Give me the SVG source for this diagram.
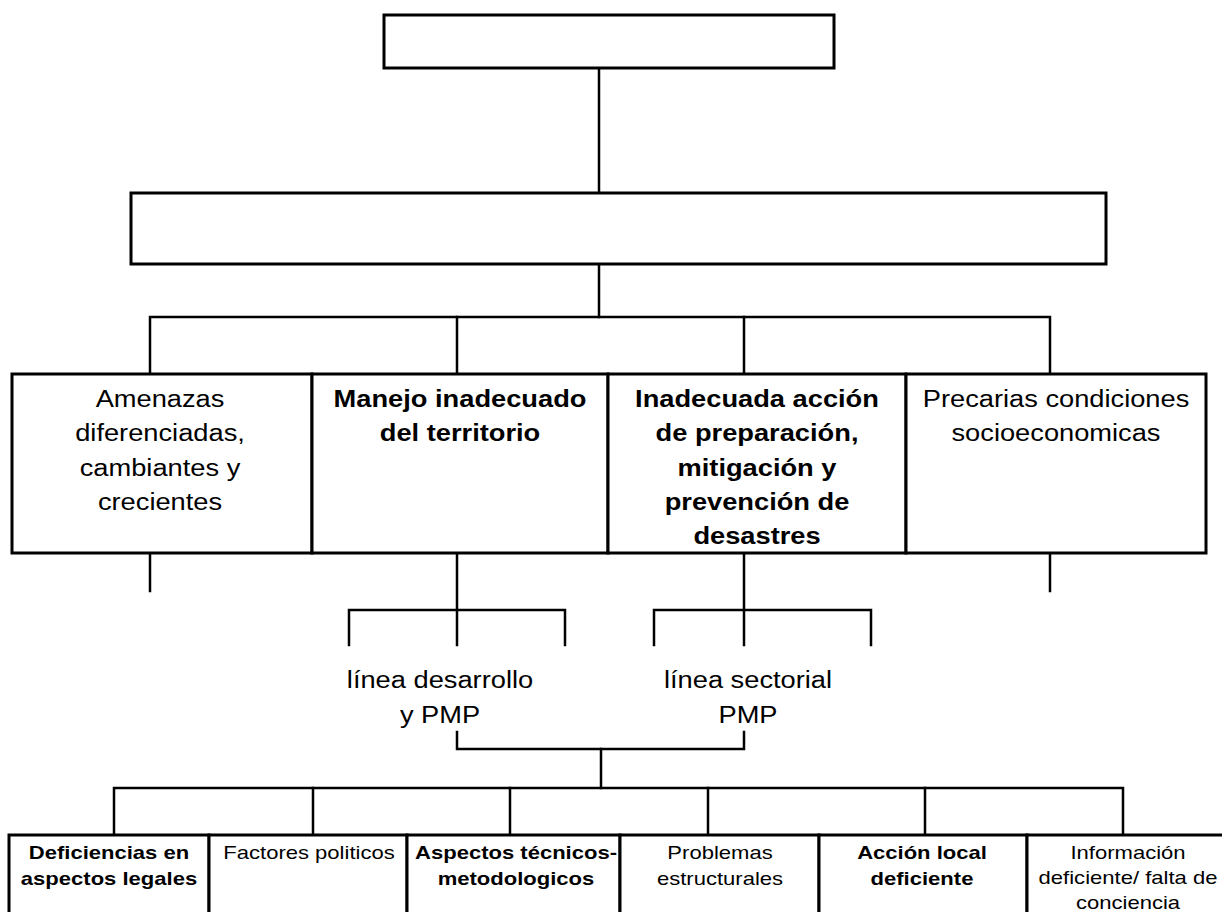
<svg xmlns="http://www.w3.org/2000/svg" width="1222" height="912" viewBox="0 0 1222 912">
<style>
.box{fill:#fff;stroke:#000;stroke-width:3}
.ln{fill:none;stroke:#000;stroke-width:2.5;stroke-linecap:square}
.tx{font-family:"Liberation Sans",Arial,sans-serif;font-size:23.5px;fill:#000;text-anchor:middle}
.b{font-weight:bold}
.sm{font-size:19px}
</style>
<rect width="1222" height="912" fill="#fff"/>
<g id="connectors">
<path class="ln" d="M599 68V193"/>
<path class="ln" d="M599 264V317"/>
<path class="ln" d="M150 374V317H1050V374"/>
<path class="ln" d="M457 317V374M744 317V374"/>
<path class="ln" d="M150 553V591M1050 553V591"/>
<path class="ln" d="M457 553V645M744 553V645"/>
<path class="ln" d="M349 645V610H565V645"/>
<path class="ln" d="M654 645V610H871V645"/>
<path class="ln" d="M457 732V749H744V732"/>
<path class="ln" d="M601 749V788"/>
<path class="ln" d="M114 835V788H1123V835"/>
<path class="ln" d="M313 788V835M510 788V835M708 788V835M925 788V835"/>
</g>
<g id="top"><rect class="box" x="384" y="15" width="450" height="53"/></g>
<g id="second"><rect class="box" x="131" y="193" width="975" height="71"/></g>
<g id="amenazas">
<rect class="box" x="12" y="374" width="300" height="179"/>
<g transform="matrix(1.16 0 0 1 160 0)"><text class="tx"><tspan x="0" y="407">Amenazas</tspan><tspan x="0" y="441">diferenciadas,</tspan><tspan x="0" y="476">cambiantes y</tspan><tspan x="0" y="510">crecientes</tspan></text></g>
</g>
<g id="manejo">
<rect class="box" x="312" y="374" width="296" height="179"/>
<g transform="matrix(1.16 0 0 1 460 0)"><text class="tx b"><tspan x="0" y="407">Manejo inadecuado</tspan><tspan x="0" y="441">del territorio</tspan></text></g>
</g>
<g id="inadecuada">
<rect class="box" x="608" y="374" width="298" height="179"/>
<g transform="matrix(1.16 0 0 1 757 0)"><text class="tx b"><tspan x="0" y="407">Inadecuada acción</tspan><tspan x="0" y="441">de preparación,</tspan><tspan x="0" y="476">mitigación y</tspan><tspan x="0" y="510">prevención de</tspan><tspan x="0" y="544">desastres</tspan></text></g>
</g>
<g id="precarias">
<rect class="box" x="906" y="374" width="300" height="179"/>
<g transform="matrix(1.16 0 0 1 1056 0)"><text class="tx"><tspan x="0" y="407">Precarias condiciones</tspan><tspan x="0" y="441">socioeconomicas</tspan></text></g>
</g>
<g id="linea-desarrollo">
<g transform="matrix(1.16 0 0 1 440 0)"><text class="tx"><tspan x="0" y="688">línea desarrollo</tspan><tspan x="0" y="723">y PMP</tspan></text></g>
</g>
<g id="linea-sectorial">
<g transform="matrix(1.16 0 0 1 748 0)"><text class="tx"><tspan x="0" y="688">línea sectorial</tspan><tspan x="0" y="723">PMP</tspan></text></g>
</g>
<g id="deficiencias">
<rect class="box" x="9" y="835" width="200" height="90"/>
<g transform="matrix(1.16 0 0 1 109 0)"><text class="tx sm b"><tspan x="0" y="859">Deficiencias en</tspan><tspan x="0" y="885">aspectos legales</tspan></text></g>
</g>
<g id="factores">
<rect class="box" x="209" y="835" width="198" height="90"/>
<g transform="matrix(1.16 0 0 1 309 0)"><text class="tx sm"><tspan x="0" y="859">Factores politicos</tspan></text></g>
</g>
<g id="aspectos">
<rect class="box" x="407" y="835" width="213" height="90"/>
<g transform="matrix(1.16 0 0 1 516 0)"><text class="tx sm b"><tspan x="0" y="859">Aspectos técnicos-</tspan><tspan x="0" y="885">metodologicos</tspan></text></g>
</g>
<g id="problemas">
<rect class="box" x="620" y="835" width="199" height="90"/>
<g transform="matrix(1.16 0 0 1 720 0)"><text class="tx sm"><tspan x="0" y="859">Problemas</tspan><tspan x="0" y="885">estructurales</tspan></text></g>
</g>
<g id="accion">
<rect class="box" x="819" y="835" width="208" height="90"/>
<g transform="matrix(1.16 0 0 1 922 0)"><text class="tx sm b"><tspan x="0" y="859">Acción local</tspan><tspan x="0" y="885">deficiente</tspan></text></g>
</g>
<g id="informacion">
<rect class="box" x="1027" y="835" width="210" height="90"/>
<g transform="matrix(1.16 0 0 1 1128 0)"><text class="tx sm"><tspan x="0" y="859">Información</tspan><tspan x="0" y="884">deficiente/ falta de</tspan><tspan x="0" y="909">conciencia</tspan></text></g>
</g>
</svg>
